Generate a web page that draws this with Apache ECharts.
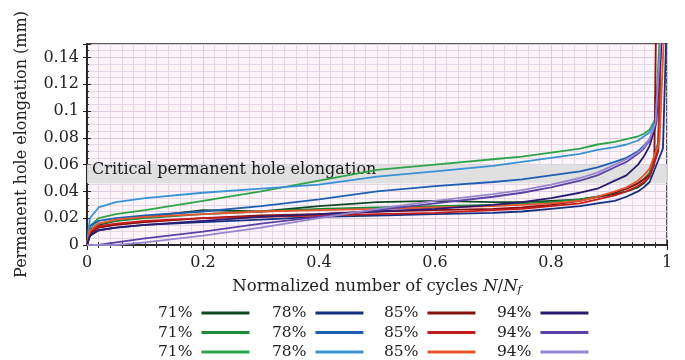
<!DOCTYPE html>
<html>
<head>
<meta charset="utf-8">
<script src="https://cdn.jsdelivr.net/npm/echarts@6/dist/echarts.min.js"></script>
<style>html,body{margin:0;padding:0;background:#fff}#c{width:685px;height:360px}</style>
</head>
<body>
<div id="c"></div>
<script>
// normalized number of cycles (shared x positions)
const nx = [0, 0.005, 0.02, 0.05, 0.1, 0.2, 0.3, 0.4, 0.5, 0.6, 0.7, 0.75, 0.8, 0.85, 0.88, 0.91, 0.93, 0.95, 0.96, 0.97];
// permanent hole elongation (mm)
const e71a = [0, 0.009, 0.015, 0.018, 0.021, 0.026, 0.025, 0.029, 0.032, 0.033, 0.032, 0.032, 0.033, 0.034, 0.036, 0.038, 0.040, 0.043, 0.046, 0.051];
const e71b = [0, 0.012, 0.016, 0.018, 0.020, 0.023, 0.025, 0.027, 0.028, 0.029, 0.030, 0.031, 0.032, 0.034, 0.036, 0.039, 0.042, 0.046, 0.049, 0.054];
const e71c = [0, 0.014, 0.020, 0.023, 0.026, 0.033, 0.040, 0.048, 0.056, 0.060, 0.064, 0.066, 0.069, 0.072, 0.075, 0.077, 0.079, 0.081, 0.083, 0.086];
const e78a = [0, 0.007, 0.011, 0.013, 0.015, 0.017, 0.019, 0.021, 0.022, 0.023, 0.024, 0.025, 0.027, 0.029, 0.031, 0.033, 0.036, 0.040, 0.043, 0.047];
const e78b = [0, 0.014, 0.018, 0.020, 0.022, 0.025, 0.029, 0.034, 0.040, 0.044, 0.047, 0.049, 0.052, 0.055, 0.058, 0.062, 0.065, 0.070, 0.074, 0.079];
const e78c = [0, 0.020, 0.028, 0.032, 0.035, 0.039, 0.042, 0.045, 0.051, 0.055, 0.059, 0.062, 0.065, 0.068, 0.071, 0.073, 0.075, 0.078, 0.081, 0.084];
const e85a = [0, 0.008, 0.013, 0.015, 0.017, 0.020, 0.022, 0.023, 0.025, 0.026, 0.027, 0.028, 0.030, 0.033, 0.036, 0.039, 0.042, 0.046, 0.049, 0.052];
const e85b = [0, 0.010, 0.014, 0.016, 0.018, 0.020, 0.021, 0.022, 0.023, 0.024, 0.026, 0.027, 0.029, 0.031, 0.034, 0.037, 0.040, 0.044, 0.047, 0.051];
const e85c = [0, 0.011, 0.016, 0.019, 0.021, 0.023, 0.025, 0.026, 0.027, 0.028, 0.029, 0.030, 0.031, 0.033, 0.036, 0.040, 0.043, 0.048, 0.052, 0.057];
const e94a = [0, 0.007, 0.011, 0.013, 0.015, 0.018, 0.021, 0.023, 0.025, 0.027, 0.030, 0.032, 0.035, 0.039, 0.042, 0.048, 0.052, 0.060, 0.066, 0.074];
const e94b = [0, 0, 0, 0.002, 0.005, 0.010, 0.016, 0.021, 0.026, 0.031, 0.036, 0.039, 0.043, 0.048, 0.052, 0.058, 0.062, 0.068, 0.072, 0.078];
const e94c = [0, 0, 0, 0, 0.002, 0.007, 0.013, 0.020, 0.027, 0.033, 0.038, 0.041, 0.045, 0.050, 0.054, 0.060, 0.064, 0.069, 0.073, 0.079];
// failure tails: knee point then vertical rise
const kneeX = [0.985, 0.985, 0.98, 0.993, 0.982, 0.98, 0.978, 0.985, 0.987, 0.98, 0.98, 0.98];
const kneeY = [0.072, 0.077, 0.094, 0.072, 0.092, 0.093, 0.060, 0.070, 0.077, 0.088, 0.090, 0.091];
const failX = [0.99, 0.99, 0.988, 0.999, 0.99, 0.991, 0.981, 0.989, 0.995, 0.992, 0.99, 0.99];
const topY = 0.16;
// names, labels, colours
const names = ['71%-a','71%-b','71%-c','78%-a','78%-b','78%-c','85%-a','85%-b','85%-c','94%-a','94%-b','94%-c'];
const colors = ['#0f4a22','#1d8a3a','#2ea347','#172f80','#1f5fb2','#3a92d6','#861212','#c41c1c','#ea5530','#2a1b70','#5c40a6','#9686cc'];
const values = [e71a,e71b,e71c,e78a,e78b,e78c,e85a,e85b,e85c,e94a,e94b,e94c];
// critical band
const bandLow = 0.046, bandHigh = 0.060;
const yTicks = { min: 0, max: 0.15, interval: 0.02 };
const xTicks = { min: 0, max: 1, interval: 0.2 };

const FONT = 'DejaVu Serif';
const series = values.map((v, i) => {
  const data = nx.map((x, k) => [x, v[k]]);
  data.push([kneeX[i], kneeY[i]]);
  data.push([failX[i], topY]);
  const s = {
    name: names[i], type: 'line', data, showSymbol: false, symbol: 'none',
    lineStyle: { width: 1.8, color: colors[i] }, itemStyle: { color: colors[i] },
    z: 3, clip: true
  };
  if (i === 0) {
    s.markArea = {
      silent: true,
      itemStyle: { color: 'rgba(222,222,222,0.9)' },
      label: { show: true, position: 'insideLeft', offset: [0, -4], fontFamily: FONT, fontSize: 16, color: '#1a1a1a' },
      data: [[{ name: 'Critical permanent hole elongation', xAxis: 0, yAxis: bandLow }, { xAxis: 1, yAxis: bandHigh }]]
    };
  }
  return s;
});

function colLegend(idx, left) {
  return {
    orient: 'vertical', left: left, top: 305, height: 60, align: 'right',
    itemWidth: 48, itemHeight: 3, itemGap: 3.5, icon: 'rect', padding: 0,
    data: [names[idx], names[idx + 1], names[idx + 2]],
    formatter: n => n.split('-')[0],
    textStyle: { fontFamily: FONT, fontSize: 15.5, lineHeight: 15, color: '#222', padding: [0, 4, 0, 0] },
    selectedMode: false
  };
}

const chart = echarts.init(document.getElementById('c'), null, { renderer: 'canvas' });
chart.setOption({
  animation: false,
  backgroundColor: '#fff',
  grid: { left: 87, right: 18, top: 44, bottom: 115, show: true, backgroundColor: '#fbf5fa', borderColor: '#222', borderWidth: 1.5 },
  legend: [colLegend(0, 158), colLegend(3, 272), colLegend(6, 384), colLegend(9, 497)],
  xAxis: [{
    type: 'value', min: xTicks.min, max: xTicks.max, interval: xTicks.interval,
    name: 'Normalized number of cycles {i|N}{n|/}{i|N}{s|f}',
    nameLocation: 'middle', nameGap: 33,
    nameTextStyle: { fontFamily: FONT, fontSize: 16.5, color: '#222',
      rich: { i: { fontFamily: FONT, fontStyle: 'italic', fontSize: 16.5, color: '#222' },
              n: { fontFamily: FONT, fontSize: 16.5, color: '#222' },
              s: { fontFamily: FONT, fontStyle: 'italic', fontSize: 11, color: '#222', padding: [7, 0, 0, 0] } } },
    axisLine: { lineStyle: { color: '#222', width: 1.5 } },
    axisTick: { inside: true, length: 5, lineStyle: { color: '#222' } },
    minorTick: { show: true, splitNumber: 10, length: 3, lineStyle: { color: '#333' } },
    axisLabel: { fontFamily: FONT, fontSize: 16, color: '#222', margin: 10 },
    splitLine: { show: true, lineStyle: { color: '#dccadc', width: 1 } },
    minorSplitLine: { show: true, lineStyle: { color: '#e5d6e5', width: 1 } }
  }, {
    type: 'value', position: 'top', min: xTicks.min, max: xTicks.max, interval: xTicks.interval,
    axisLine: { show: true, lineStyle: { color: '#222', width: 1.5 } },
    axisTick: { inside: true, length: 5, lineStyle: { color: '#222' } },
    minorTick: { show: true, splitNumber: 10, length: 3, lineStyle: { color: '#333' } },
    axisLabel: { show: false }, splitLine: { show: false }
  }],
  yAxis: [{
    type: 'value', min: yTicks.min, max: yTicks.max, interval: yTicks.interval,
    name: 'Permanent hole elongation (mm)', nameLocation: 'middle', nameGap: 57, nameRotate: 90,
    nameTextStyle: { fontFamily: FONT, fontSize: 16, color: '#222' },
    axisLine: { lineStyle: { color: '#222', width: 1.5 } },
    axisTick: { inside: true, length: 4, lineStyle: { color: '#222' } },
    minorTick: { show: true, splitNumber: 4, length: 2, lineStyle: { color: '#333' } },
    axisLabel: { fontFamily: FONT, fontSize: 16, color: '#222', margin: 8, showMaxLabel: false,
      formatter: v => (Math.round(v * 1000) / 1000).toString() },
    splitLine: { show: true, lineStyle: { color: '#dccadc', width: 1 } },
    minorSplitLine: { show: true, lineStyle: { color: '#e5d6e5', width: 1 } }
  }, {
    type: 'value', position: 'right', min: yTicks.min, max: yTicks.max, interval: yTicks.interval,
    axisLine: { show: true, lineStyle: { color: '#222', width: 1.5 } },
    axisTick: { inside: true, length: 4, lineStyle: { color: '#222' } },
    axisLabel: { show: false }, splitLine: { show: false }
  }],
  series
});
</script>
</body>
</html>
